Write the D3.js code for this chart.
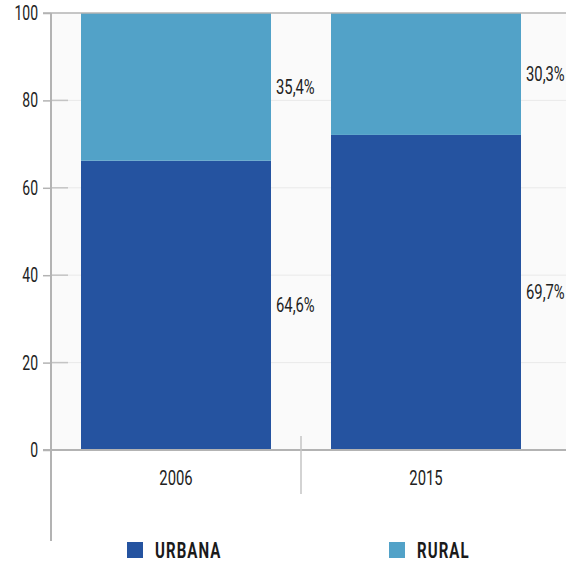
<!DOCTYPE html>
<html>
<head>
<meta charset="utf-8">
<script src="https://cdn.jsdelivr.net/npm/d3@7"></script>
<style>
  body { margin: 0; background: #fff; }
  svg { display: block; }
  text { font-family: "Roboto", "Liberation Sans", sans-serif; }
</style>
</head>
<body>
<svg width="566" height="561"></svg>
<script>
// data
const years = ["2006", "2015"];
const urbana = [66.2, 72.1];
const rural = [33.8, 27.9];
const urbanaLabels = ["64,6%", "69,7%"];
const ruralLabels = ["35,4%", "30,3%"];
const yTicks = [0, 20, 40, 60, 80, 100];
const seriesNames = ["URBANA", "RURAL"];

const width = 566;
const height = 561;
const margin = { top: 13, left: 51, bottom: 111 };
const colors = { URBANA: "#2553a0", RURAL: "#52a2c8" };

const svg = d3.select("svg");

// squeeze text horizontally (the original uses a condensed face)
function condense(sel, k) {
  sel.each(function() {
    const t = d3.select(this);
    const x = +t.attr("x") || 0;
    const y = +t.attr("y") || 0;
    t.attr("x", 0).attr("y", 0).attr("transform", `translate(${x}, ${y}) scale(${k}, 1)`);
  });
}

// scales
const xScale = d3
  .scaleBand()
  .domain(years)
  .range([margin.left, margin.left + 500])
  .paddingInner(0.24)
  .paddingOuter(0.12);

const yScale = d3
  .scaleLinear()
  .domain([0, 100])
  .range([height - margin.bottom, margin.top]);

// plot background
svg
  .append("rect")
  .attr("x", margin.left)
  .attr("y", yScale(100))
  .attr("width", width - margin.left)
  .attr("height", yScale(0) - yScale(100))
  .attr("fill", "#fafafa");

// gridlines
svg
  .append("g")
  .selectAll("line")
  .data(yTicks.filter(d => d > 0 && d < 100))
  .enter()
  .append("line")
  .attr("x1", margin.left)
  .attr("x2", width)
  .attr("y1", d => yScale(d))
  .attr("y2", d => yScale(d))
  .attr("stroke", "#e9e9e9")
  .attr("stroke-width", 1);

// stacked bars
const rows = years.map((y, i) => ({ year: y, URBANA: urbana[i], RURAL: rural[i] }));
const stacked = d3.stack().keys(seriesNames)(rows);

svg
  .append("g")
  .selectAll("g")
  .data(stacked)
  .enter()
  .append("g")
  .attr("fill", d => colors[d.key])
  .selectAll("rect")
  .data(d => d)
  .enter()
  .append("rect")
  .attr("x", d => xScale(d.data.year))
  .attr("y", d => yScale(d[1]))
  .attr("width", xScale.bandwidth())
  .attr("height", d => yScale(d[0]) - yScale(d[1]));

// value labels, right of each bar at segment middle
const labelSets = [urbanaLabels, ruralLabels];
stacked.forEach((layer, li) => {
  const lbl = svg
    .append("g")
    .selectAll("text")
    .data(layer)
    .enter()
    .append("text")
    .attr("x", d => xScale(d.data.year) + xScale.bandwidth() + 5)
    .attr("y", d => yScale((d[0] + d[1]) / 2))
    .attr("dy", "0.35em")
    .attr("font-size", 19.5)
    .attr("fill", "#222")
    .text((d, i) => labelSets[li][i]);
  condense(lbl, 0.76);
});

// top border
svg
  .append("line")
  .attr("x1", margin.left - 8)
  .attr("x2", width)
  .attr("y1", yScale(100))
  .attr("y2", yScale(100))
  .attr("stroke", "#b3b3b3")
  .attr("stroke-width", 1.5);

// y axis
const yAxis = d3
  .axisLeft(yScale)
  .tickValues(yTicks)
  .tickSize(8)
  .tickPadding(5);

const yG = svg
  .append("g")
  .attr("transform", `translate(${margin.left}, 0)`)
  .call(yAxis);
yG.select(".domain").remove();
yG.selectAll(".tick line").attr("stroke", "#b3b3b3").attr("stroke-width", 1.5);
yG.selectAll(".tick text")
  .attr("font-size", 20)
  .attr("fill", "#222")
  .attr("font-family", null);
condense(yG.selectAll(".tick text"), 0.7);

// inner tick stubs
svg
  .append("g")
  .selectAll("line")
  .data(yTicks.filter(d => d > 0 && d < 100))
  .enter()
  .append("line")
  .attr("x1", margin.left)
  .attr("x2", margin.left + 17)
  .attr("y1", d => yScale(d))
  .attr("y2", d => yScale(d))
  .attr("stroke", "#c4c4c4")
  .attr("stroke-width", 1.5);

// y axis line
svg
  .append("line")
  .attr("x1", margin.left)
  .attr("x2", margin.left)
  .attr("y1", yScale(100))
  .attr("y2", 541)
  .attr("stroke", "#b3b3b3")
  .attr("stroke-width", 2);

// x axis
const xAxis = d3.axisBottom(xScale).tickSize(0).tickPadding(21);
const xG = svg
  .append("g")
  .attr("transform", `translate(0, ${yScale(0)})`)
  .call(xAxis);
xG.select(".domain").remove();
xG.selectAll(".tick text")
  .attr("font-size", 19.5)
  .attr("fill", "#222")
  .attr("font-family", null);
condense(xG.selectAll(".tick text"), 0.76);

svg
  .append("line")
  .attr("x1", margin.left - 8)
  .attr("x2", width)
  .attr("y1", yScale(0))
  .attr("y2", yScale(0))
  .attr("stroke", "#b3b3b3")
  .attr("stroke-width", 2);

// separator between categories
const sepX = (xScale("2006") + xScale.bandwidth() + xScale("2015")) / 2;
svg
  .append("line")
  .attr("x1", sepX)
  .attr("x2", sepX)
  .attr("y1", yScale(0) - 14)
  .attr("y2", yScale(0) + 44)
  .attr("stroke", "#c4c4c4")
  .attr("stroke-width", 1.5);

// legend
const legendX = [127, 389];
const legend = svg
  .append("g")
  .selectAll("g")
  .data(seriesNames)
  .enter()
  .append("g")
  .attr("transform", (d, i) => `translate(${legendX[i]}, 542)`);
legend
  .append("rect")
  .attr("width", 16)
  .attr("height", 16)
  .attr("fill", d => colors[d]);
const legendText = legend
  .append("text")
  .attr("x", 28)
  .attr("y", 15.5)
  .attr("font-size", 21.5)
  .attr("font-weight", "bold")
  .attr("letter-spacing", 1.5)
  .attr("fill", "#1a1a1a")
  .text(d => d);
condense(legendText, 0.7);
</script>
</body>
</html>
